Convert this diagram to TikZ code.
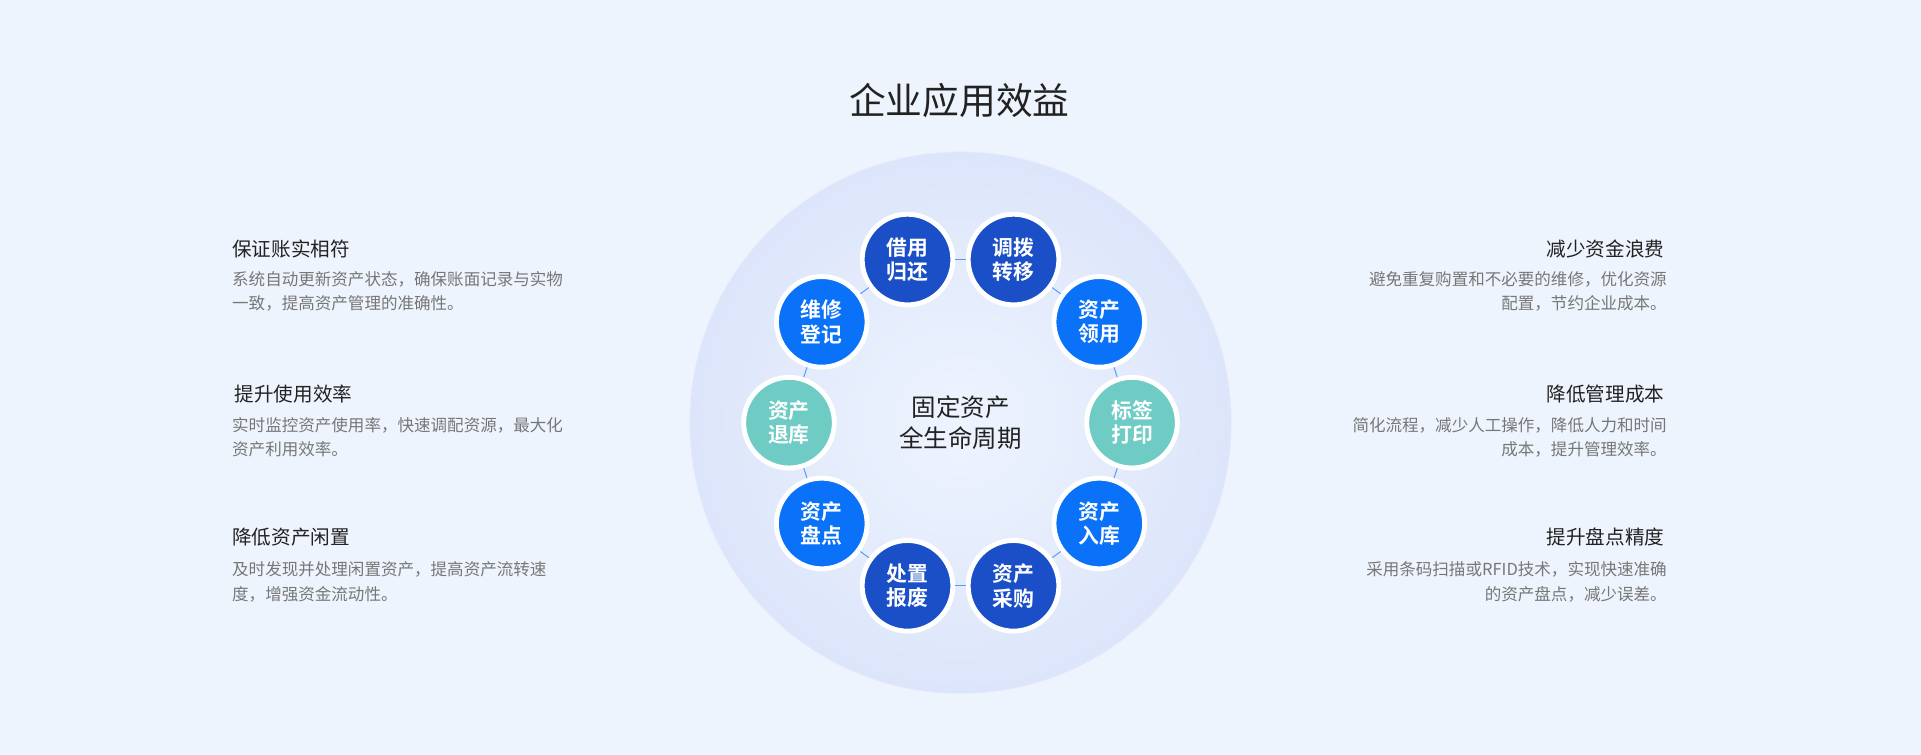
\documentclass[tikz,border=0pt]{standalone}
\usepackage{fontspec}
\setmainfont{Noto Sans CJK SC}
\newfontfamily\cjkbold{Noto Sans CJK SC Bold}
\usetikzlibrary{positioning,calc}
\definecolor{bgblue}{HTML}{EEF4FE}
\definecolor{ringedge}{HTML}{DCE5FA}
\definecolor{darkblue}{HTML}{1A4FC7}
\definecolor{brightblue}{HTML}{0A72F8}
\definecolor{tealgreen}{HTML}{6ECCC4}
\definecolor{headtext}{HTML}{222222}
\definecolor{desctext}{HTML}{777777}
\tikzset{
    stage/.style={circle, minimum size=74pt, inner sep=0pt, draw=white, line width=4pt,
        text=white, font=\cjkbold\fontsize{17}{20}\selectfont, align=center},
    link/.style={draw=brightblue!70, line width=0.8pt},
    headline/.style={font=\fontsize{16}{19}\selectfont, text=headtext},
    desc/.style={font=\fontsize{13.5}{20}\selectfont, text=desctext}
}
\begin{document}
\begin{tikzpicture}[x=1pt,y=-1pt]

    % Background
    \fill[bgblue] (0,0) rectangle (1568,616);
    \useasboundingbox (0,0) rectangle (1568,616);

    % Title
    \node[font=\fontsize{30}{34}\selectfont, text=headtext] (title) at (783,82) {企业应用效益};

    % Big halo circle
    \shade[inner color=bgblue, outer color=ringedge] (784,345) circle (221);
    \draw[ringedge!80!blue!30, line width=0.6pt] (784,345) circle (221);

    % Center label
    \node[font=\fontsize{20}{26}\selectfont, text=headtext, align=center] (center) at (784,345) {固定资产\\全生命周期};

    % Lifecycle stages (10 nodes, 36 degrees apart)
    \foreach \i/\ang/\col/\txt in {
        0/0/tealgreen/{标签\\打印},
        1/-36/brightblue/{资产\\领用},
        2/-72/darkblue/{调拨\\转移},
        3/-108/darkblue/{借用\\归还},
        4/-144/brightblue/{维修\\登记},
        5/-180/tealgreen/{资产\\退库},
        6/-216/brightblue/{资产\\盘点},
        7/-252/darkblue/{处置\\报废},
        8/-288/darkblue/{资产\\采购},
        9/-324/brightblue/{资产\\入库}} {
        \node[stage, fill=\col] (s\i) at ($(784,345)+(\ang:140)$) {\txt};
    }

    % Short links between neighbours
    \foreach \i [evaluate=\i as \j using {int(mod(\i+1,10))}] in {0,...,9} {
        \path[link] (s\i) -- (s\j);
    }

    % Left benefits
    \node[headline, anchor=west] (l1) at (186,203) {保证账实相符};
    \node[desc, anchor=north west, align=left] (l1d) at (186,218) {系统自动更新资产状态，确保账面记录与实物\\一致，提高资产管理的准确性。};
    \node[headline, anchor=west] (l2) at (188,322) {提升使用效率};
    \node[desc, anchor=north west, align=left] (l2d) at (186,337) {实时监控资产使用率，快速调配资源，最大化\\资产利用效率。};
    \node[headline, anchor=west] (l3) at (186,438) {降低资产闲置};
    \node[desc, anchor=north west, align=left] (l3d) at (186,455) {及时发现并处理闲置资产，提高资产流转速\\度，增强资金流动性。};

    % Right benefits
    \node[headline, anchor=east] (r1) at (1362,203) {减少资金浪费};
    \node[desc, anchor=north east, align=right] (r1d) at (1364,218) {避免重复购置和不必要的维修，优化资源\\配置，节约企业成本。};
    \node[headline, anchor=east] (r2) at (1362,322) {降低管理成本};
    \node[desc, anchor=north east, align=right] (r2d) at (1364,337) {简化流程，减少人工操作，降低人力和时间\\成本，提升管理效率。};
    \node[headline, anchor=east] (r3) at (1362,438) {提升盘点精度};
    \node[desc, anchor=north east, align=right] (r3d) at (1364,455) {采用条码扫描或RFID技术，实现快速准确\\的资产盘点，减少误差。};

\end{tikzpicture}
\end{document}
